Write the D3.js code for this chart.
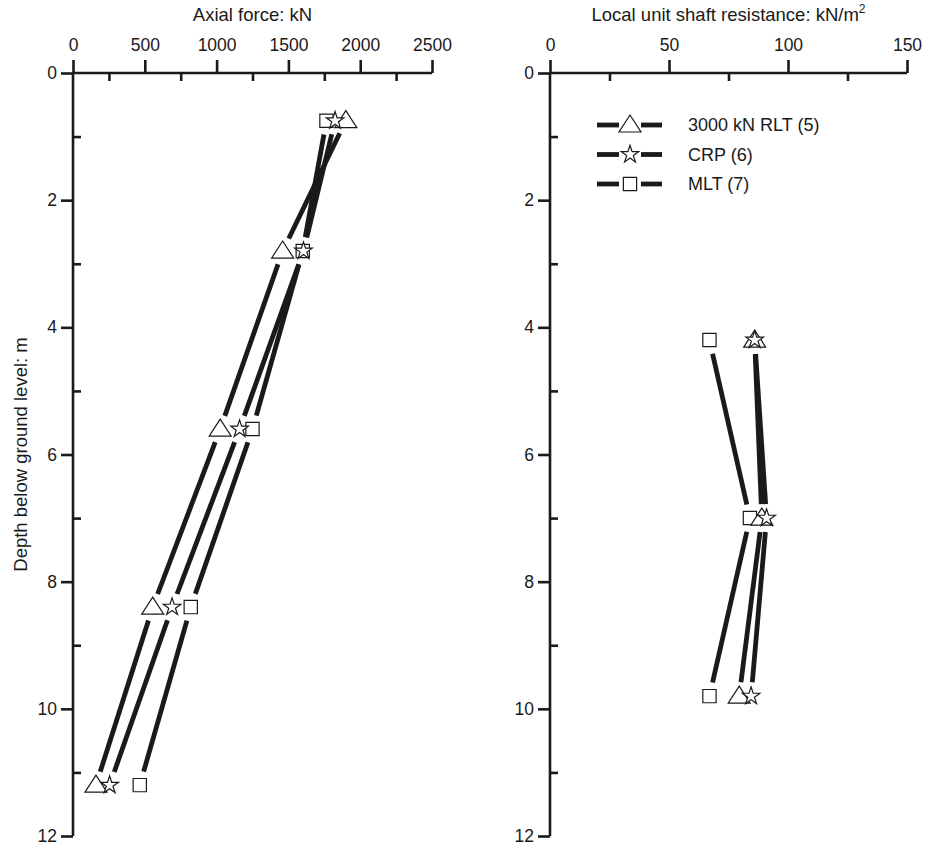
<!DOCTYPE html>
<html><head><meta charset="utf-8">
<script src="https://cdn.jsdelivr.net/npm/d3@7"></script>
<style>body{margin:0;background:#fff}svg{font-family:"Liberation Sans",Arial,sans-serif}</style>
</head><body>
<svg id="c" width="926" height="847"></svg>
<script>
const depthsLeft = [0.75, 2.8, 5.6, 8.4, 11.2];
const rltForce = [1900, 1460, 1025, 555, 160];
const crpForce = [1825, 1605, 1160, 690, 255];
const mltForce = [1765, 1600, 1250, 820, 465];
const depthsRight = [4.2, 7.0, 9.8];
const rltShaft = [86, 89, 79.5];
const crpShaft = [86, 91, 84.5];
const mltShaft = [67, 84, 67];
const seriesNames = ["3000 kN RLT (5)", "CRP (6)", "MLT (7)"];
const seriesShapes = ["triangle", "star", "square"];
const forceTicks = [0, 500, 1000, 1500, 2000, 2500];
const shaftTicks = [0, 50, 100, 150];
const depthTicks = [0, 2, 4, 6, 8, 10, 12];

const svg = d3.select("#c");
const y = d3.scaleLinear([0, 12], [73, 836]);
const xL = d3.scaleLinear([0, 2500], [73, 432]);
const xR = d3.scaleLinear([0, 150], [550, 907]);
const INK = "#1a1a1a";
const FONT = '"Liberation Sans",Arial,sans-serif';

function axes(x, ticks, minor, title, titleSup) {
  const g = svg.append("g");
  const top = g.append("g").attr("transform", `translate(0,${y(0)})`)
    .call(d3.axisTop(x).tickValues(ticks).tickSize(13).tickPadding(9).tickFormat(d3.format("d")));
  const bot = g.append("g").attr("transform", `translate(0,${y(0)})`)
    .call(d3.axisBottom(x).tickValues(minor).tickSize(8).tickFormat(""));
  const left = g.append("g").attr("transform", `translate(${x.range()[0]},0)`)
    .call(d3.axisLeft(y).tickValues(depthTicks).tickSize(12).tickPadding(4));
  const right = g.append("g").attr("transform", `translate(${x.range()[0]},0)`)
    .call(d3.axisRight(y).tickValues([1,3,5,7,9,11]).tickSize(8).tickFormat(""));
  [top, bot, left, right].forEach(a => {
    a.select(".domain").remove();
    a.selectAll(".tick line").attr("stroke", INK).attr("stroke-width", 2.6);
    a.selectAll("text").attr("font-size", 17.5).attr("fill", INK).attr("font-family", FONT);
  });
  g.append("line").attr("x1", x.range()[0]).attr("x2", x.range()[1]).attr("y1", y(0)).attr("y2", y(0))
    .attr("stroke", INK).attr("stroke-width", 2.6);
  g.append("line").attr("x1", x.range()[0]).attr("x2", x.range()[0]).attr("y1", y(0)).attr("y2", y(12))
    .attr("stroke", INK).attr("stroke-width", 2.6);
  const t = g.append("text").attr("x", (x.range()[0] + x.range()[1]) / 2).attr("y", 21)
    .attr("text-anchor", "middle").attr("font-size", 18.5).attr("fill", INK).text(title);
  if (titleSup) t.append("tspan").attr("font-size", 12).attr("dy", -8).text(titleSup);
}
axes(xL, forceTicks, [250, 750, 1250, 1750, 2250], "Axial force: kN");
axes(xR, shaftTicks, [25, 75, 125], "Local unit shaft resistance: kN/m", "2");

svg.append("text").attr("transform", `translate(27,${(y(0)+y(12))/2}) rotate(-90)`)
  .attr("text-anchor", "middle").attr("font-size", 18.5).attr("fill", INK)
  .text("Depth below ground level: m");

const triPath = "M0,-10L11,7L-11,7Z";
function marker(g, shape, cx, cy) {
  let p;
  if (shape === "triangle") p = g.append("path").attr("d", triPath);
  else if (shape === "star") p = g.append("path").attr("d", d3.symbol(d3.symbolStar, 95)());
  else p = g.append("path").attr("d", d3.symbol(d3.symbolSquare, 176)());
  p.attr("transform", `translate(${cx},${cy})`).attr("fill", "#fff").attr("stroke", INK).attr("stroke-width", 1.2);
}
function series(x, depths, vals, shape) {
  const pts = depths.map((d, i) => [x(vals[i]), y(d)]);
  const g = svg.append("g");
  const gap = 14;
  for (let i = 0; i < pts.length - 1; i++) {
    const [x1, y1] = pts[i], [x2, y2] = pts[i + 1];
    const L = Math.hypot(x2 - x1, y2 - y1), ux = (x2 - x1) / L, uy = (y2 - y1) / L;
    g.append("line").attr("x1", x1 + ux * gap).attr("y1", y1 + uy * gap)
      .attr("x2", x2 - ux * gap).attr("y2", y2 - uy * gap)
      .attr("stroke", INK).attr("stroke-width", 4.8);
  }
  return { g, pts };
}
const leftSets = [[rltForce, "triangle"], [crpForce, "star"], [mltForce, "square"]];
const rightSets = [[rltShaft, "triangle"], [crpShaft, "star"], [mltShaft, "square"]];
const drawn = [];
leftSets.forEach(([v, s]) => drawn.push([series(xL, depthsLeft, v, s), s]));
rightSets.forEach(([v, s]) => drawn.push([series(xR, depthsRight, v, s), s]));
const mg = svg.append("g");
["square", "triangle", "star"].forEach(sh => {
  drawn.filter(d => d[1] === sh).forEach(([o, s]) => o.pts.forEach(p => marker(mg, s, p[0], p[1])));
});

// legend
const lg = svg.append("g");
seriesNames.forEach((name, i) => {
  const cy = 125 + i * 29.5;
  lg.append("line").attr("x1", 597).attr("x2", 619).attr("y1", cy).attr("y2", cy).attr("stroke", INK).attr("stroke-width", 4.8);
  lg.append("line").attr("x1", 641).attr("x2", 662).attr("y1", cy).attr("y2", cy).attr("stroke", INK).attr("stroke-width", 4.8);
  marker(lg, seriesShapes[i], 630, cy);
  lg.append("text").attr("x", 688).attr("y", cy + 6).attr("font-size", 18).attr("fill", INK).text(name);
});
</script>
</body></html>
